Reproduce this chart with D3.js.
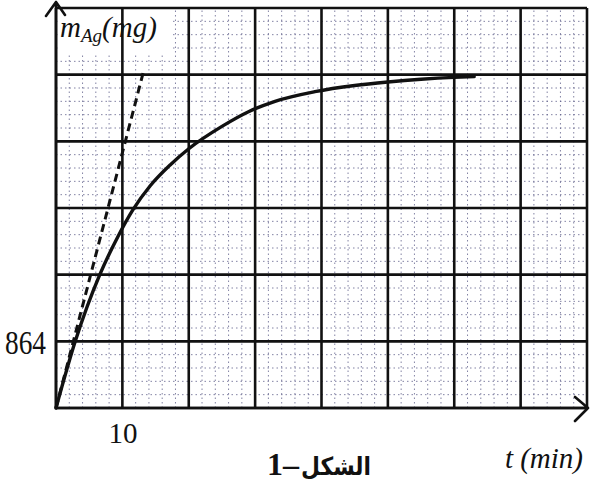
<!DOCTYPE html>
<html>
<head>
<meta charset="utf-8">
<script src="https://cdn.jsdelivr.net/npm/d3@7"></script>
<style>
    body { margin: 0; background: #fff; }
    .minor line { stroke: #5a5a86; stroke-width: 1; stroke-dasharray: 1.5,3; opacity: 0.75; }
    .major line { stroke: #111; stroke-width: 2.6; }
    .tick-label text { font-family: "Liberation Serif", "DejaVu Serif", serif; fill: #111; }
</style>
</head>
<body>
<div id="chart"></div>
<script>
// time axis (min) and silver mass (mg)
var timeMin = [0, 2.9, 6.6, 9.3, 11.6, 14.2, 17.2, 20, 25, 29, 33, 39, 45, 50, 55, 60, 63];
var massMg  = [0, 864, 1728, 2216, 2570, 2880, 3150, 3360, 3650, 3840, 3975, 4100, 4180, 4225, 4260, 4285, 4295];

// tangent at the origin (dashed)
var tangentTime = [0, 13.3];
var tangentMass = [0, 4400];

var xTickValues = [10];
var yTickValues = [864];

var tMax = 80, tStep = 10;
var mMax = 5184, mStep = 864;

MassChart = function(_parentElement) {
    this.parentElement = _parentElement;
    this.initVis();
};

MassChart.prototype.initVis = function() {
    var vis = this;

    vis.width = 590;
    vis.height = 486;

    vis.svg = d3.select("#" + vis.parentElement).append("svg")
        .attr("width", vis.width)
        .attr("height", vis.height)
        .style("display", "block");

    vis.svg.append("rect")
        .attr("width", vis.width)
        .attr("height", vis.height)
        .attr("fill", "#fff");

    vis.x = d3.scaleLinear().domain([0, tMax]).range([56, 587]);
    vis.y = d3.scaleLinear().domain([0, mMax]).range([408, 8]);

    vis.updateVis();
};

MassChart.prototype.updateVis = function() {
    var vis = this;

    var x0 = vis.x(0), x1 = vis.x(tMax), y0 = vis.y(0), y1 = vis.y(mMax);

    // minor grid: 5 subdivisions in each square
    var minorT = d3.range(0, tMax + 0.001, tStep / 5);
    var minorM = d3.range(0, mMax + 0.001, mStep / 5);

    var minor = vis.svg.append("g").attr("class", "minor");
    minor.selectAll(".mv").data(minorT).enter().append("line")
        .attr("class", "mv")
        .attr("x1", function(d) { return vis.x(d); })
        .attr("x2", function(d) { return vis.x(d); })
        .attr("y1", y0).attr("y2", y1);
    minor.selectAll(".mh").data(minorM).enter().append("line")
        .attr("class", "mh")
        .attr("y1", function(d) { return vis.y(d); })
        .attr("y2", function(d) { return vis.y(d); })
        .attr("x1", x0).attr("x2", x1);

    // white patch behind the y label
    vis.svg.append("rect")
        .attr("x", x0 + 2).attr("y", y1 + 2)
        .attr("width", 112).attr("height", 44)
        .attr("fill", "#fff");

    // major grid
    var majorT = d3.range(0, tMax + 0.001, tStep);
    var majorM = d3.range(0, mMax + 0.001, mStep);

    var major = vis.svg.append("g").attr("class", "major");
    major.selectAll(".v").data(majorT).enter().append("line")
        .attr("class", "v")
        .attr("x1", function(d) { return vis.x(d); })
        .attr("x2", function(d) { return vis.x(d); })
        .attr("y1", y0).attr("y2", y1);
    major.selectAll(".h").data(majorM).enter().append("line")
        .attr("class", "h")
        .attr("y1", function(d) { return vis.y(d); })
        .attr("y2", function(d) { return vis.y(d); })
        .attr("x1", x0).attr("x2", x1);

    // axis arrows
    var arrows = vis.svg.append("g")
        .attr("fill", "none")
        .attr("stroke", "#111")
        .attr("stroke-width", 2.6)
        .attr("stroke-linecap", "round")
        .attr("stroke-linejoin", "round");
    arrows.append("path")
        .attr("d", "M" + x0 + "," + y0 + "V2 M" + (x0 - 10) + ",16 L" + x0 + ",2 L" + (x0 + 9) + ",15");
    arrows.append("path")
        .attr("d", "M" + x0 + "," + y0 + "H588 M575," + (y0 - 11) + " L588," + y0 + " L575," + (y0 + 13));

    // curve and tangent
    var curveData = timeMin.map(function(t, i) { return { t: t, m: massMg[i] }; });
    var tangentData = tangentTime.map(function(t, i) { return { t: t, m: tangentMass[i] }; });

    var line = d3.line()
        .x(function(d) { return vis.x(d.t); })
        .y(function(d) { return vis.y(d.m); });

    vis.svg.append("path")
        .datum(tangentData)
        .attr("d", line)
        .attr("fill", "none")
        .attr("stroke", "#111")
        .attr("stroke-width", 3)
        .attr("stroke-dasharray", "8,5");

    vis.svg.append("path")
        .datum(curveData)
        .attr("d", line.curve(d3.curveMonotoneX))
        .attr("fill", "none")
        .attr("stroke", "#111")
        .attr("stroke-width", 3.4)
        .attr("stroke-linecap", "round");

    // tick labels through the d3 axes
    var yAxis = d3.axisLeft(vis.y).tickValues(yTickValues).tickSize(0).tickPadding(0);
    var gy = vis.svg.append("g")
        .attr("class", "tick-label")
        .attr("transform", "translate(46,0)")
        .call(yAxis);
    gy.select(".domain").remove();
    gy.selectAll("text")
        .attr("font-size", 34)
        .attr("dy", "0.36em")
        .attr("textLength", 41)
        .attr("lengthAdjust", "spacingAndGlyphs");

    var xAxis = d3.axisBottom(vis.x).tickValues(xTickValues).tickSize(0).tickPadding(0);
    var gx = vis.svg.append("g")
        .attr("class", "tick-label")
        .attr("transform", "translate(0,420)")
        .call(xAxis);
    gx.select(".domain").remove();
    gx.selectAll("text")
        .attr("font-size", 29)
        .attr("dy", "0.8em");

    // axis titles
    var yTitle = vis.svg.append("text")
        .attr("x", 60)
        .attr("y", 37)
        .attr("font-family", "'Liberation Serif', serif")
        .attr("font-style", "italic")
        .attr("font-size", 29)
        .attr("fill", "#111");
    yTitle.append("tspan").text("m");
    yTitle.append("tspan").attr("font-size", 19).attr("dy", 5).text("Ag");
    yTitle.append("tspan").attr("dy", -5).text("(mg)");

    vis.svg.append("text")
        .attr("x", 583)
        .attr("y", 468)
        .attr("text-anchor", "end")
        .attr("font-family", "'Liberation Serif', serif")
        .attr("font-style", "italic")
        .attr("font-size", 29)
        .attr("fill", "#111")
        .text("t (min)");

    // figure caption: "1–" then the arabic word to its right
    vis.svg.append("text")
        .attr("x", 299)
        .attr("y", 475)
        .attr("text-anchor", "end")
        .attr("font-family", "'Liberation Serif', serif")
        .attr("font-weight", "bold")
        .attr("font-size", 32)
        .attr("fill", "#111")
        .text("1–");

    vis.svg.append("text")
        .attr("x", 301)
        .attr("y", 475)
        .attr("text-anchor", "start")
        .attr("font-family", "'DejaVu Sans', sans-serif")
        .attr("font-weight", "bold")
        .attr("font-size", 25)
        .attr("textLength", 70)
        .attr("lengthAdjust", "spacingAndGlyphs")
        .attr("fill", "#111")
        .text("الشكل");
};

var chart = new MassChart("chart");
</script>
</body>
</html>
